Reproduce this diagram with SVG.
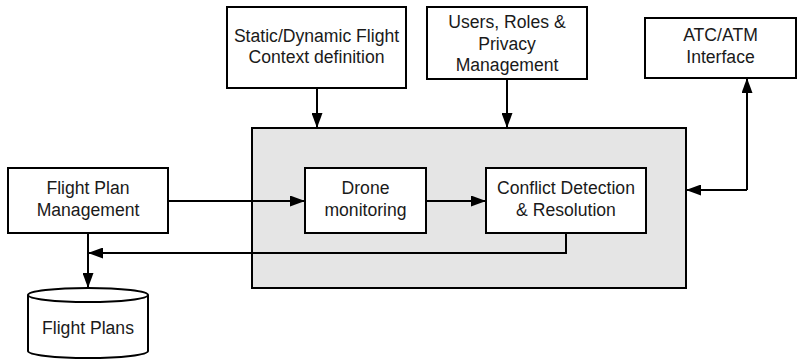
<svg xmlns="http://www.w3.org/2000/svg" width="798" height="360" viewBox="0 0 798 360">
<style>
.box{fill:#fff;stroke:#000;stroke-width:2}
.grp{fill:#e5e5e5;stroke:#000;stroke-width:2}
.t{font-family:"Liberation Sans",Arial,sans-serif;font-size:17.6px;fill:#1a1a1a;text-anchor:middle}
.c{fill:none;stroke:#000;stroke-width:2}
</style>
<defs>
<marker id="ah" viewBox="0 0 15 11" refX="15" refY="5.5" markerWidth="15" markerHeight="11" markerUnits="userSpaceOnUse" orient="auto">
<path d="M0,0 L15,5.5 L0,11 Z" fill="#000"/>
</marker>
</defs>
<g id="system">
<rect class="grp" x="252" y="128" width="434" height="160"/>
</g>
<g id="fpm">
<rect class="box" x="8" y="168" width="160" height="65"/>
<text class="t" x="88" y="194">Flight Plan</text>
<text class="t" x="88" y="216">Management</text>
</g>
<g id="drone">
<rect class="box" x="305" y="168" width="121" height="65"/>
<text class="t" x="365.5" y="194">Drone</text>
<text class="t" x="365.5" y="216">monitoring</text>
</g>
<g id="cdr">
<rect class="box" x="486" y="168" width="160" height="65"/>
<text class="t" x="566" y="194">Conflict Detection</text>
<text class="t" x="566" y="216">&amp; Resolution</text>
</g>
<g id="context">
<rect class="box" x="227" y="7" width="179" height="81"/>
<text class="t" x="316.5" y="42">Static/Dynamic Flight</text>
<text class="t" x="316.5" y="63">Context definition</text>
</g>
<g id="users">
<rect class="box" x="427" y="7" width="160" height="72"/>
<text class="t" x="507" y="28">Users, Roles &amp;</text>
<text class="t" x="507" y="50">Privacy</text>
<text class="t" x="507" y="71">Management</text>
</g>
<g id="atc">
<rect class="box" x="645" y="18" width="151" height="60"/>
<text class="t" x="720.5" y="41">ATC/ATM</text>
<text class="t" x="720.5" y="63">Interface</text>
</g>
<g id="flightplans">
<path class="box" d="M28,295 L28,351 A60,7 0 0 0 148,351 L148,295"/>
<ellipse class="box" cx="88" cy="295" rx="60" ry="7"/>
<text class="t" x="88" y="334">Flight Plans</text>
</g>
<g id="connectors">
<path class="c" d="M168,201 L305,201" marker-end="url(#ah)"/>
<path class="c" d="M426,201 L486,201" marker-end="url(#ah)"/>
<path class="c" d="M317,88 L317,128" marker-end="url(#ah)"/>
<path class="c" d="M507,79 L507,128" marker-end="url(#ah)"/>
<path class="c" d="M566,233 L566,253 L88,253" marker-end="url(#ah)"/>
<path class="c" d="M88,233 L88,288" marker-end="url(#ah)"/>
<path class="c" d="M747,190 L686,190" marker-end="url(#ah)"/>
<path class="c" d="M747,190 L747,78" marker-end="url(#ah)"/>
</g>
</svg>
